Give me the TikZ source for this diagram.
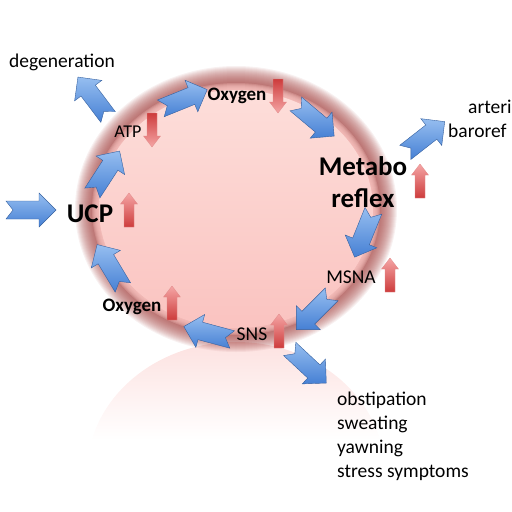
\documentclass[tikz,border=0pt]{standalone}
\usepackage{fontspec}
\setmainfont{Carlito}
\usetikzlibrary{positioning}

\definecolor{cellpink}{RGB}{250,195,192}
\definecolor{cellpinklt}{RGB}{253,222,218}
\definecolor{cellrim}{RGB}{165,70,68}
\definecolor{arrowblue}{RGB}{70,128,212}
\definecolor{arrowbluelt}{RGB}{150,190,240}
\definecolor{arrowred}{RGB}{205,60,60}
\definecolor{arrowredlt}{RGB}{245,165,165}

\begin{document}
\begin{tikzpicture}[x=1pt, y=-1pt,
        bluefill/.style={draw=arrowblue!75!black, line width=0.4pt, top color=arrowbluelt, bottom color=arrowblue},
        redupfill/.style={draw=arrowred!60, line width=0.3pt, top color=arrowredlt, bottom color=arrowred},
        reddownfill/.style={draw=arrowred!60, line width=0.3pt, top color=arrowred, bottom color=arrowredlt},
        lbl/.style={font=\fontsize{19.5}{24}\selectfont, inner sep=0pt, anchor=base},
        boldlbl/.style={font=\bfseries\fontsize{19}{23}\selectfont, inner sep=0pt, anchor=base},
        biglbl/.style={font=\bfseries\fontsize{27}{32}\selectfont, inner sep=0pt, anchor=base, align=center},
        bluearrow/.pic={\path[bluefill] (-25,9) -- (8,9) -- (8,17) -- (25,0) -- (8,-17) -- (8,-9) -- (-25,-9) -- (-18,0) -- cycle;},
        redup/.pic={\path[redupfill] (-5,17) -- (-5,-6) -- (-8.5,-6) -- (0,-17) -- (8.5,-6) -- (5,-6) -- (5,17) -- cycle;},
        reddown/.pic={\path[reddownfill] (-5,-17) -- (-5,6) -- (-8.5,6) -- (0,17) -- (8.5,6) -- (5,6) -- (5,-17) -- cycle;}
    ]
        \useasboundingbox (0,0) rectangle (512,512);

        % Reflection
        \begin{scope}
            \clip (236,473) ellipse (149 and 131);
            \shade[top color=cellpink!50, bottom color=white] (80,340) rectangle (400,440);
        \end{scope}

        % Cycle
        \coordinate (cellc) at (236,209);
        \foreach \d in {12,11,...,-4}
            \fill[cellrim, opacity=0.075] (cellc) ellipse ({149+\d} and {131+\d});
        \foreach \d in {5,6,...,11}
            \fill[cellpink, opacity=0.25] (cellc) ellipse ({149-\d} and {131-\d});
        \shade[top color=cellpinklt, bottom color=cellpink] (cellc) ellipse (137 and 119);

        % Red arrows
        \pic (atpred) at (152,130) {reddown};
        \pic (oxyred) at (278,96) {reddown};
        \pic (ucpred) at (129,210) {redup};
        \pic (metred) at (420,181) {redup};
        \pic (msnared) at (390,275) {redup};
        \pic (oxybred) at (172,303) {redup};
        \pic (snsred) at (279,331) {redup};

        % Blue arrows
        \pic[rotate=0] (inarr) at (31,210) {bluearrow};
        \pic[rotate=127] (degarr) at (93,97) {bluearrow};
        \pic[rotate=57] (ucpatp) at (106,172) {bluearrow};
        \pic[rotate=22] (atpoxy) at (184,99) {bluearrow};
        \pic[rotate=-40] (oxymet) at (315,120) {bluearrow};
        \pic[rotate=38] (metart) at (425,137) {bluearrow};
        \pic[rotate=-112] (metmsna) at (364,234) {bluearrow};
        \pic[rotate=-135] (msnasns) at (314,312) {bluearrow};
        \pic[rotate=165] (snsoxy) at (208,333) {bluearrow};
        \pic[rotate=121] (oxyucp) at (110,266) {bluearrow};
        \pic[rotate=-43] (snsobs) at (308,366) {bluearrow};

        % Labels
        \node[lbl] (degen) at (62,67) {degeneration};
        \node[lbl, font=\fontsize{18}{22}\selectfont] (atp) at (128,137) {ATP};
        \node[boldlbl] (oxytop) at (237,100) {Oxygen};
        \node[biglbl] (ucp) at (90,222) {UCP};
        \node[biglbl] (metabo) at (363,207) {Metabo\\reflex};
        \node[lbl, anchor=base west] (arteri) at (468,113) {arteri};
        \node[lbl, anchor=base west] (baro) at (448,137) {baroref};
        \node[lbl] (msna) at (351,283) {MSNA};
        \node[boldlbl] (oxybot) at (132,311) {Oxygen};
        \node[lbl] (sns) at (252,340) {SNS};
        \node[lbl, anchor=base west, align=left] (symptoms) at (337,477) {obstipation\\sweating\\yawning\\stress symptoms};
    \end{tikzpicture}
\end{document}
